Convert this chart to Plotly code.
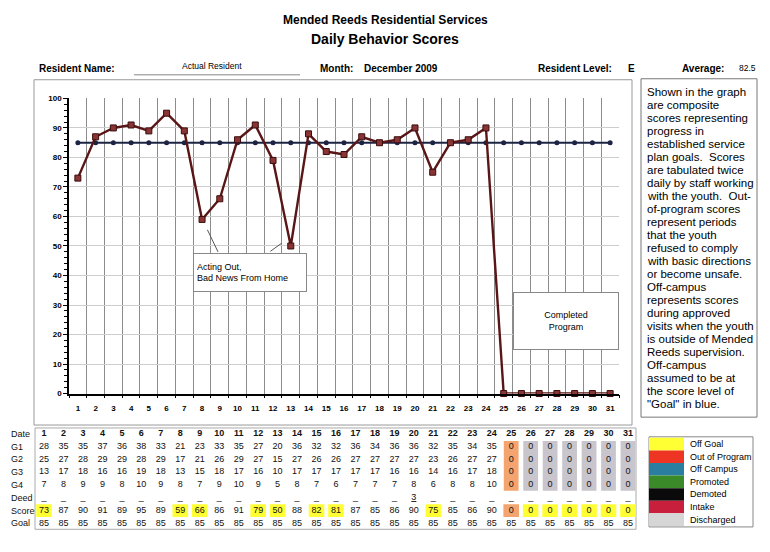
import plotly.graph_objects as go

# ---------------- data ----------------
days = list(range(1, 32))
score = [73, 87, 90, 91, 89, 95, 89, 59, 66, 86, 91, 79, 50, 88, 82, 81, 87, 85, 86, 90, 75, 85, 86, 90,
         0, 0, 0, 0, 0, 0, 0]
goal = [85] * 31
g1 = [28, 35, 35, 37, 36, 38, 33, 21, 23, 33, 35, 27, 20, 36, 32, 32, 36, 34, 36, 36, 32, 35, 34, 35,
      0, 0, 0, 0, 0, 0, 0]
g2 = [25, 27, 28, 29, 29, 28, 29, 17, 21, 26, 29, 27, 15, 27, 26, 26, 27, 27, 27, 27, 23, 26, 27, 27,
      0, 0, 0, 0, 0, 0, 0]
g3 = [13, 17, 18, 16, 16, 19, 18, 13, 15, 18, 17, 16, 10, 17, 17, 17, 17, 17, 16, 16, 14, 16, 17, 18,
      0, 0, 0, 0, 0, 0, 0]
g4 = [7, 8, 9, 9, 8, 10, 9, 8, 7, 9, 10, 9, 5, 8, 7, 6, 7, 7, 7, 8, 6, 8, 8, 10,
      0, 0, 0, 0, 0, 0, 0]
deed = [0] * 19 + [3] + [0] * 11
# status per day for table cell colouring
status = ["in"] * 24 + ["out"] + ["discharged"] * 6
row_labels = ["Date", "G1", "G2", "G3", "G4", "Deed", "Score", "Goal"]
legend_names = ["Off Goal", "Out of Program", "Off Campus", "Promoted", "Demoted", "Intake", "Discharged"]
legend_colors = ["#ffff33", "#ee3524", "#2a7fa0", "#3a8a2a", "#0a0a0a", "#c8203c", "#d6d6d6"]
note_lines = ["Shown in the graph", "are composite", "scores representing", "progress in",
              "established service", "plan goals.  Scores", "are tabulated twice",
              "daily by staff working", "with the youth.  Out-", "of-program scores",
              "represent periods", "that the youth", "refused to comply", "with basic directions",
              "or become unsafe.", "Off-campus", "represents scores", "during approved",
              "visits when the youth", "is outside of Mended", "Reeds supervision.",
              "Off-campus", "assumed to be at", "the score level of", "\"Goal\" in blue."]
average = sum(score[:24]) / 24

FONT = "Arial, Liberation Sans, sans-serif"
W, H = 770, 552
def px(x): return x / W
def py(y): return 1 - y / H

fig = go.Figure()

# ---------------- chart ----------------
fig.add_trace(go.Scatter(x=days, y=goal, mode="lines+markers", xaxis="x", yaxis="y",
                         line=dict(color="#1c2444", width=2),
                         marker=dict(symbol="circle", size=5, color="#1c2444"),
                         showlegend=False, hoverinfo="skip"))
fig.add_trace(go.Scatter(x=days, y=score, mode="lines+markers", xaxis="x", yaxis="y",
                         line=dict(color="#5a1616", width=2.4),
                         marker=dict(symbol="square", size=6, color="#8a3535",
                                     line=dict(color="#3a0c0c", width=1)),
                         showlegend=False, hoverinfo="skip", cliponaxis=False))

# ---------------- table ----------------
OFF = "#ffff33"; OUTC = "#f4a46e"; DIS = "#c9c5cc"
shapes = []
for i, d in enumerate(days):
    st = status[i]
    if st in ("out", "discharged"):
        shapes.append(dict(type="rect", xref="x2", yref="y2", x0=d - 0.38, x1=d + 0.38,
                           y0=0.55, y1=4.45, fillcolor=OUTC if st == "out" else DIS,
                           line=dict(width=0), layer="below"))
    if st == "out":
        sc = OUTC
    elif score[i] < goal[i]:
        sc = OFF
    else:
        sc = None
    if sc:
        shapes.append(dict(type="rect", xref="x2", yref="y2", x0=d - 0.4, x1=d + 0.4,
                           y0=5.5, y1=6.5, fillcolor=sc, line=dict(width=0), layer="below"))

rows = [
    [f"<b>{d}</b>" for d in days],
    [str(v) for v in g1],
    [str(v) for v in g2],
    [str(v) for v in g3],
    [str(v) for v in g4],
    ["<u>%d</u>" % v if v else "_" for v in deed],
    [str(v) for v in score],
    [str(v) for v in goal],
]
for r, texts in enumerate(rows):
    fig.add_trace(go.Scatter(x=days, y=[r] * 31, text=texts, mode="text", xaxis="x2", yaxis="y2",
                             textfont=dict(family=FONT, size=9, color="#111"),
                             showlegend=False, hoverinfo="skip", cliponaxis=False))

annotations = []
for r, lab in enumerate(row_labels):
    annotations.append(dict(xref="paper", yref="y2", x=px(9), y=r, text=lab, showarrow=False,
                            xanchor="left", yanchor="middle",
                            font=dict(family=FONT, size=9, color="#111")))

# ---------------- header ----------------
def txt(x, y, t, size, bold=False, anchor="left"):
    annotations.append(dict(xref="paper", yref="paper", x=px(x), y=py(y),
                            text=("<b>%s</b>" % t) if bold else t, showarrow=False,
                            xanchor=anchor, yanchor="middle",
                            font=dict(family=FONT, size=size, color="#000")))

txt(385, 16, "Mended Reeds Residential Services", 12, True, "center")
txt(385, 36, "Daily Behavior Scores", 14, True, "center")
txt(37, 66, "Resident Name:", 10, True)
txt(212, 63, "Actual Resident", 8.5, False, "center")
txt(318, 66, "Month:", 10, True)
txt(362, 66, "December 2009", 10, True)
txt(536, 66, "Resident Level:", 10, True)
txt(626, 66, "E", 10, True)
txt(680, 66, "Average:", 10, True)
txt(737, 65, "%.1f" % average, 8.5)
shapes.append(dict(type="line", xref="paper", yref="paper", x0=px(134), x1=px(300),
                   y0=py(72), y1=py(72), line=dict(color="#888", width=1)))

# frames
shapes.append(dict(type="rect", xref="paper", yref="paper", x0=px(34), x1=px(632), y0=py(428), y1=py(77),
                   line=dict(color="#999", width=1)))
shapes.append(dict(type="rect", xref="paper", yref="paper", x0=px(641), x1=px(757), y0=py(420), y1=py(76),
                   line=dict(color="#777", width=1)))
shapes.append(dict(type="rect", xref="paper", yref="paper", x0=px(35), x1=px(636), y0=py(534), y1=py(431),
                   line=dict(color="#aaa", width=1), layer="below"))

# side note
for k, line in enumerate(note_lines):
    annotations.append(dict(xref="paper", yref="paper", x=px(645), y=py(89 + k * 13.25), text=line,
                            showarrow=False, xanchor="left", yanchor="middle",
                            font=dict(family=FONT, size=11.5, color="#000")))

# chart callouts
annotations.append(dict(xref="paper", yref="paper", x=px(193), y=py(253), xanchor="left", yanchor="top",
                        text="Acting Out,<br>Bad News From Home", showarrow=False, align="left",
                        width=106, height=31, borderpad=3, bgcolor="white", bordercolor="#888",
                        borderwidth=1, font=dict(family=FONT, size=9, color="#000")))
annotations.append(dict(xref="paper", yref="paper", x=px(513), y=py(293), xanchor="left", yanchor="top",
                        text="Completed<br>Program", showarrow=False, align="center",
                        width=98, height=50, borderpad=3, bgcolor="white", bordercolor="#888",
                        borderwidth=1, font=dict(family=FONT, size=9, color="#000")))
shapes.append(dict(type="line", xref="x", yref="y", x0=8.3, y0=55.5, x1=8.9, y1=48,
                   line=dict(color="#555", width=1)))
shapes.append(dict(type="line", xref="x", yref="y", x0=11.85, y0=48.2, x1=12.5, y1=51,
                   line=dict(color="#555", width=1)))

# legend key
lx0, lx1, ltop, lh = 649, 753, 441, 12.8
shapes.append(dict(type="rect", xref="paper", yref="paper", x0=px(lx0), x1=px(lx1),
                   y0=py(ltop + lh * len(legend_names) + 1), y1=py(ltop - 1),
                   line=dict(color="#888", width=1)))
for k, (nm, col) in enumerate(zip(legend_names, legend_colors)):
    shapes.append(dict(type="rect", xref="paper", yref="paper", x0=px(lx0), x1=px(684),
                       y0=py(ltop + lh * (k + 1)), y1=py(ltop + lh * k), fillcolor=col,
                       line=dict(width=0)))
    annotations.append(dict(xref="paper", yref="paper", x=px(688), y=py(ltop + lh * (k + 0.5)),
                            text=nm, showarrow=False, xanchor="left", yanchor="middle",
                            font=dict(family=FONT, size=9, color="#000")))

fig.update_layout(
    width=W, height=H, margin=dict(l=0, r=0, t=0, b=0),
    paper_bgcolor="white", plot_bgcolor="white",
    font=dict(family=FONT),
    xaxis=dict(domain=[px(69), px(619)], range=[0.5, 31.5], anchor="y",
               tickvals=days, ticktext=[str(d) for d in days],
               tickfont=dict(family=FONT, size=8, color="#000", weight="bold"),
               ticks="outside", ticklen=6, tickcolor="rgba(0,0,0,0)",
               showgrid=False, zeroline=False,
               showline=True, linecolor="#000", linewidth=1.5,
               minor=dict(tick0=0.5, dtick=1, showgrid=True, gridcolor="#8c8c8c", gridwidth=1,
                          ticks="outside", ticklen=3, tickcolor="#000")),
    yaxis=dict(domain=[py(396), py(96)], range=[0, 100], anchor="x",
               tickvals=list(range(0, 101, 10)),
               tickfont=dict(family=FONT, size=8, color="#000", weight="bold"),
               ticks="outside", ticklen=4, tickcolor="#000",
               showgrid=True, gridcolor="#cdcdcd", gridwidth=1, zeroline=False,
               showline=True, linecolor="#000", linewidth=1.5,
               minor=dict(dtick=2, ticks="outside", ticklen=3, tickcolor="#000", showgrid=False)),
    xaxis2=dict(domain=[px(34.3), px(637.7)], range=[0.5, 31.5], anchor="y2", visible=False),
    yaxis2=dict(domain=[py(534.5), py(430.5)], range=[7.5, -0.5], anchor="x2", visible=False),
    shapes=shapes, annotations=annotations,
)

fig.write_html("out.html", config={"displayModeBar": False},
               post_script="document.body.style.margin='0';document.body.style.overflow='hidden';"
                           "document.documentElement.style.overflow='hidden';"
                           "var gd=document.getElementById('{plot_id}');gd.style.position='absolute';"
                           "gd.style.top='0px';gd.style.left='0px';")
